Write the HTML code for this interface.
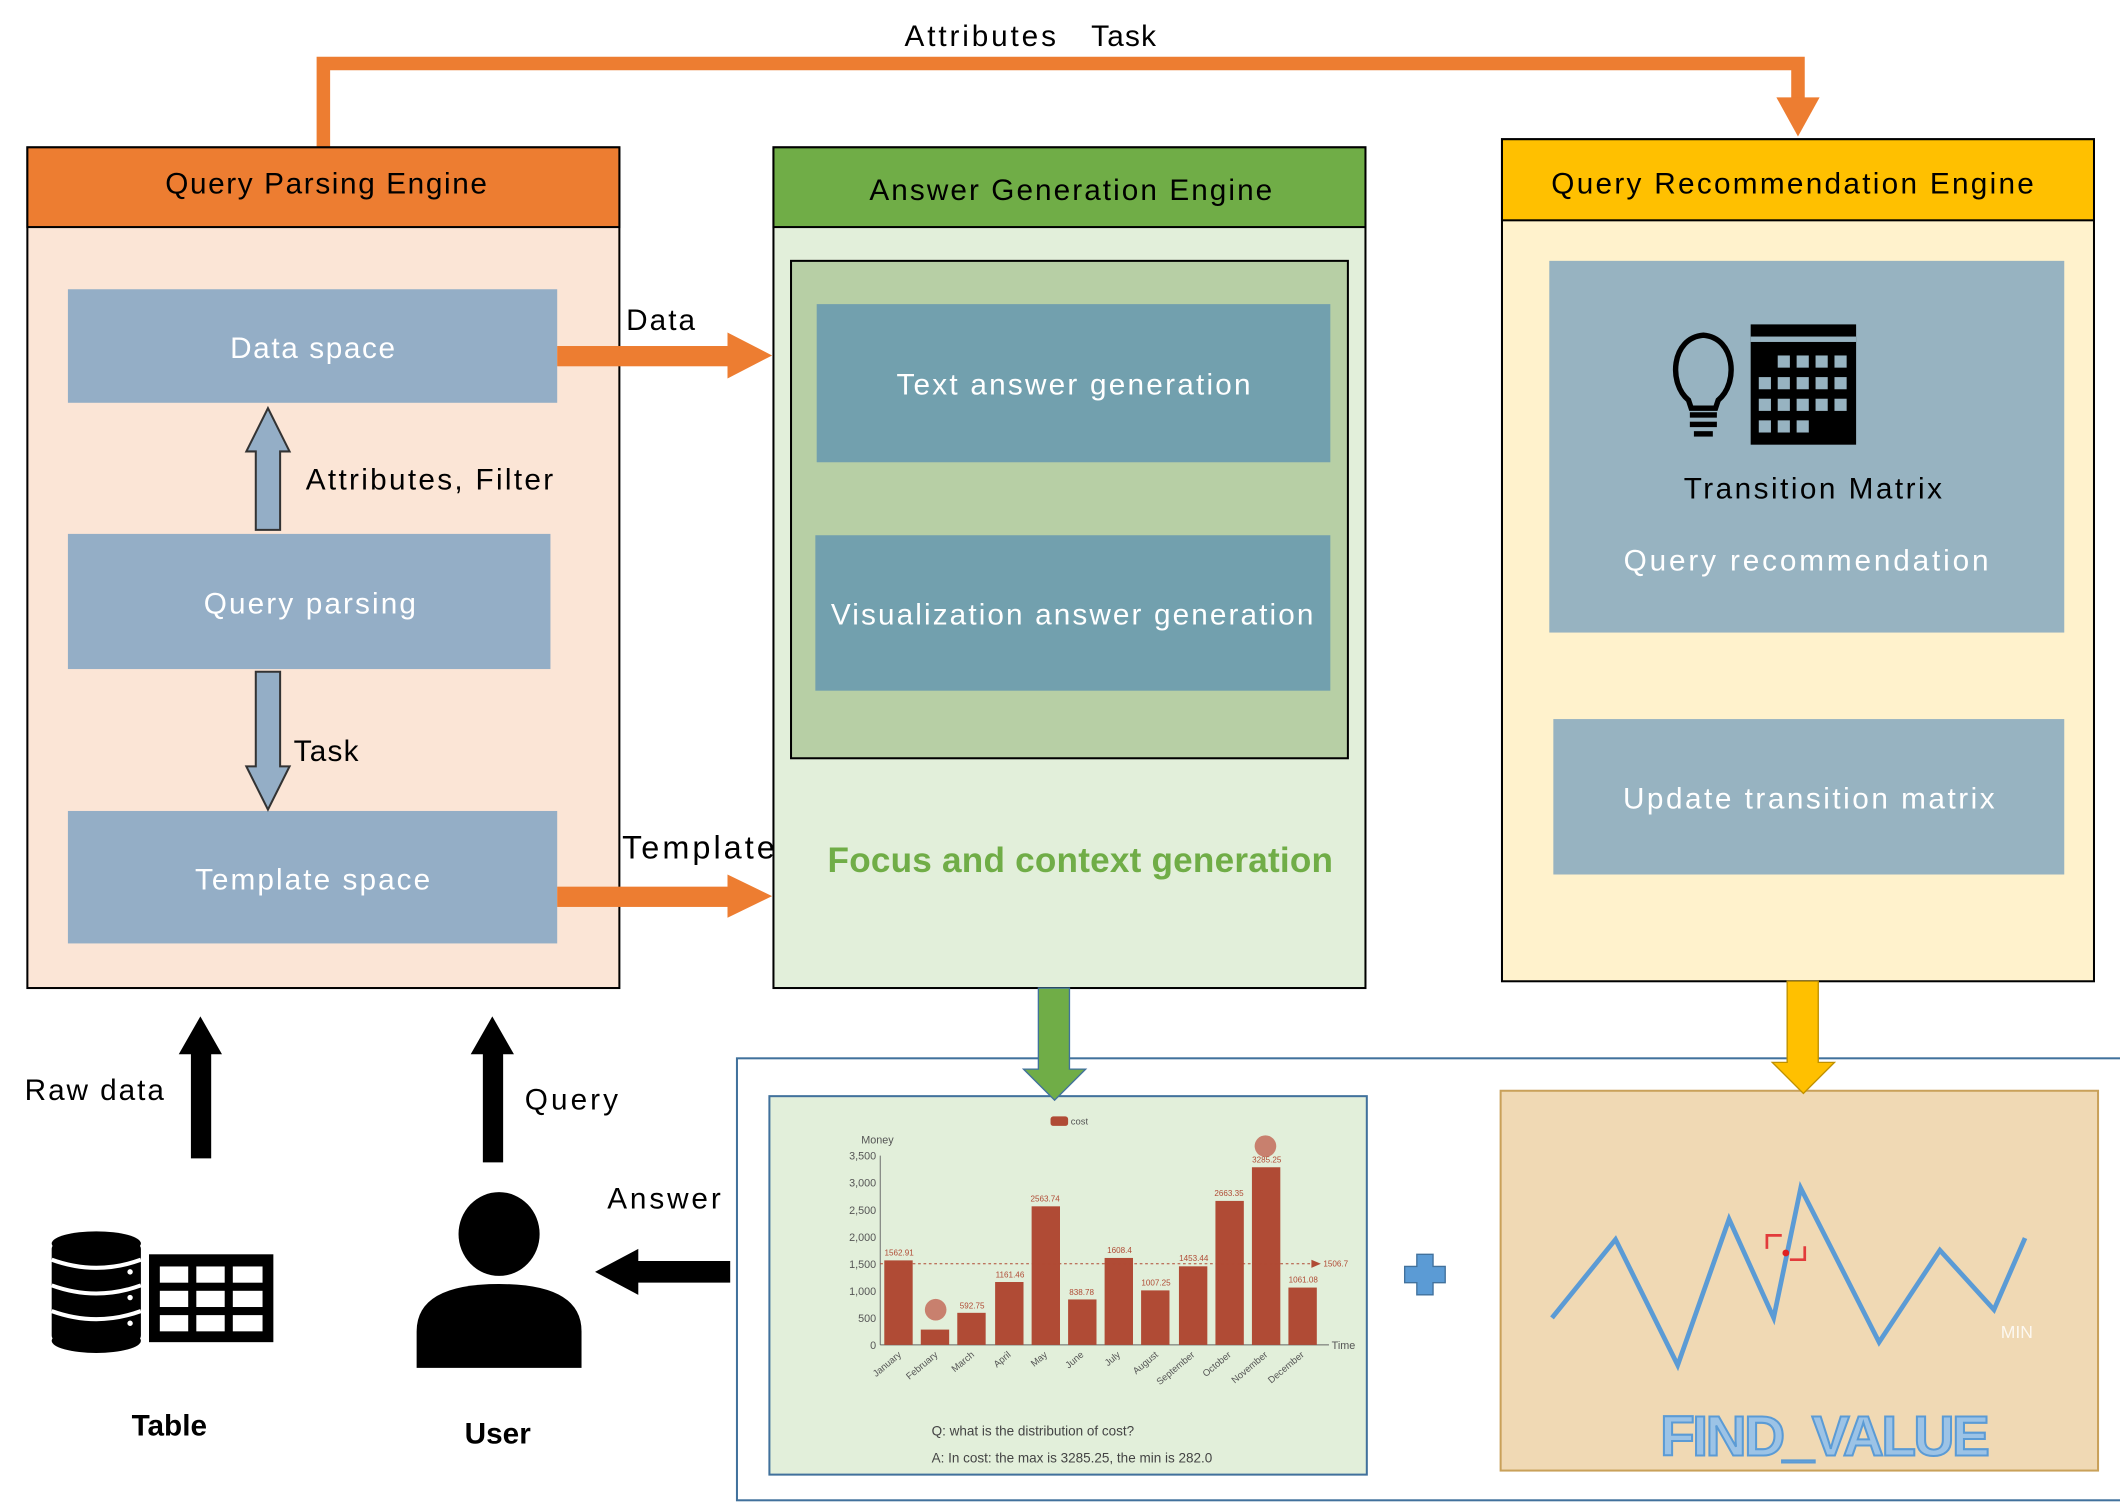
<!DOCTYPE html>
<html><head><meta charset="utf-8"><style>
html,body{margin:0;padding:0;background:#fff;width:2120px;height:1503px;overflow:hidden}
svg{display:block}
text{font-family:"Liberation Sans",sans-serif}
</style></head><body>
<svg width="2120" height="1503" viewBox="0 0 1568 1112" xmlns="http://www.w3.org/2000/svg">
<polyline points="239,109 239,47 1330,47 1330,74" fill="none" stroke="#ED7D31" stroke-width="10"/>
<polygon points="1314,72 1346,72 1330,101" fill="#ED7D31"/>
<text x="669" y="34" font-size="22" textLength="112">Attributes</text>
<text x="807" y="34" font-size="22" textLength="48">Task</text>

<rect x="20" y="109" width="438" height="622" fill="#FBE5D6" stroke="#000" stroke-width="1.5"/>
<rect x="20" y="109" width="438" height="59" fill="#ED7D31" stroke="#000" stroke-width="1.5"/>
<text x="241" y="143" font-size="22" text-anchor="middle" textLength="238">Query Parsing Engine</text>
<rect x="50" y="214" width="362" height="84" fill="#94AEC6"/>
<text x="231" y="265" font-size="22" fill="#fff" text-anchor="middle" textLength="122">Data space</text>
<rect x="50" y="395" width="357" height="100" fill="#94AEC6"/>
<text x="229" y="454" font-size="22" fill="#fff" text-anchor="middle" textLength="157">Query parsing</text>
<rect x="50" y="600" width="362" height="98" fill="#94AEC6"/>
<text x="231" y="658" font-size="22" fill="#fff" text-anchor="middle" textLength="174">Template space</text>
<polygon points="189,392 207,392 207,334 214,334 198,302 182,334 189,334" fill="#94AEC6" stroke="#333" stroke-width="1.5"/>
<text x="226" y="362" font-size="22" textLength="183">Attributes, Filter</text>
<polygon points="189,497 207,497 207,567 214,567 198,599 182,567 189,567" fill="#94AEC6" stroke="#333" stroke-width="1.5"/>
<text x="217" y="563" font-size="22" textLength="48">Task</text>

<rect x="412" y="256" width="128" height="15" fill="#ED7D31"/>
<polygon points="538,246 571,263 538,280" fill="#ED7D31"/>
<text x="463" y="244" font-size="22" textLength="51">Data</text>
<rect x="412" y="656" width="128" height="15" fill="#ED7D31"/>
<polygon points="538,647 571,663 538,679" fill="#ED7D31"/>
<text x="460" y="635" font-size="24" textLength="113">Template</text>

<rect x="572" y="109" width="438" height="622" fill="#E2EFDA" stroke="#000" stroke-width="1.5"/>
<rect x="572" y="109" width="438" height="59" fill="#70AD47" stroke="#000" stroke-width="1.5"/>
<text x="792" y="148" font-size="22" text-anchor="middle" textLength="298">Answer Generation Engine</text>
<rect x="585" y="193" width="412" height="368" fill="#B7CFA5" stroke="#000" stroke-width="1.5"/>
<rect x="604" y="225" width="380" height="117" fill="#72A0AE"/>
<text x="794" y="292" font-size="22" fill="#fff" text-anchor="middle" textLength="262">Text answer generation</text>
<rect x="603" y="396" width="381" height="115" fill="#72A0AE"/>
<text x="793" y="462" font-size="22" fill="#fff" text-anchor="middle" textLength="357">Visualization answer generation</text>
<text x="799" y="645" font-size="26" font-weight="bold" fill="#70AD47" text-anchor="middle" textLength="374">Focus and context generation</text>

<rect x="1111" y="103" width="438" height="623" fill="#FFF2CC" stroke="#000" stroke-width="1.5"/>
<rect x="1111" y="103" width="438" height="60" fill="#FFC000" stroke="#000" stroke-width="1.5"/>
<text x="1326" y="143" font-size="22" text-anchor="middle" textLength="357">Query Recommendation Engine</text>
<rect x="1146" y="193" width="381" height="275" fill="#97B3C1"/>
<rect x="1149" y="532" width="378" height="115" fill="#97B3C1"/>
<text x="1338" y="598" font-size="22" fill="#fff" text-anchor="middle" textLength="275">Update transition matrix</text>
<text x="1341" y="369" font-size="22" text-anchor="middle" textLength="191">Transition Matrix</text>
<text x="1336" y="422" font-size="22" fill="#fff" text-anchor="middle" textLength="270">Query recommendation</text>
<path d="M1249,296 C1234,284 1236,250 1260,248 C1284,250 1286,284 1271,296 L1269,302 L1251,302 Z" fill="none" stroke="#000" stroke-width="4"/>
<rect x="1250" y="305" width="20" height="4" fill="#000"/><rect x="1250" y="312" width="20" height="4" fill="#000"/><rect x="1253" y="319" width="14" height="4" fill="#000"/>
<rect x="1295" y="240" width="78" height="89" fill="#000"/>
<rect x="1295" y="249" width="78" height="4" fill="#97B3C1"/>
<g fill="#97B3C1">
<rect x="1315" y="263" width="9" height="9"/><rect x="1329" y="263" width="9" height="9"/><rect x="1343" y="263" width="9" height="9"/><rect x="1357" y="263" width="9" height="9"/>
<rect x="1301" y="279" width="9" height="9"/><rect x="1315" y="279" width="9" height="9"/><rect x="1329" y="279" width="9" height="9"/><rect x="1343" y="279" width="9" height="9"/><rect x="1357" y="279" width="9" height="9"/>
<rect x="1301" y="295" width="9" height="9"/><rect x="1315" y="295" width="9" height="9"/><rect x="1329" y="295" width="9" height="9"/><rect x="1343" y="295" width="9" height="9"/><rect x="1357" y="295" width="9" height="9"/>
<rect x="1301" y="311" width="9" height="9"/><rect x="1315" y="311" width="9" height="9"/><rect x="1329" y="311" width="9" height="9"/>
</g>

<rect x="545" y="783" width="1030" height="327" fill="none" stroke="#41719C" stroke-width="1.5"/>

<rect x="569" y="811" width="442" height="280" fill="#E2EFDA" stroke="#41719C" stroke-width="1.5"/>
<g font-size="7" fill="#555">
<rect x="777" y="826" width="13" height="7" rx="2" fill="#B04B35"/><text x="792" y="832">cost</text>
<text x="637" y="846" font-size="8">Money</text>
<g text-anchor="end" font-size="8">
<text x="648" y="858">3,500</text><text x="648" y="878">3,000</text><text x="648" y="898">2,500</text><text x="648" y="918">2,000</text><text x="648" y="938">1,500</text><text x="648" y="958">1,000</text><text x="648" y="978">500</text><text x="648" y="998">0</text>
</g>
<line x1="651" y1="855" x2="651" y2="995" stroke="#666" stroke-width="0.7"/>
<line x1="651" y1="995" x2="983" y2="995" stroke="#666" stroke-width="0.7"/>
<text x="985" y="998" font-size="8">Time</text>
</g>
<g fill="#B04B35">
<rect x="654" y="932.5" width="21" height="62.5"/>
<rect x="681" y="983.7" width="21" height="11.3"/>
<rect x="708" y="971.3" width="21" height="23.7"/>
<rect x="736" y="948.5" width="21" height="46.5"/>
<rect x="763" y="892.5" width="21" height="102.5"/>
<rect x="790" y="961.4" width="21" height="33.6"/>
<rect x="817" y="930.7" width="21" height="64.3"/>
<rect x="844" y="954.7" width="21" height="40.3"/>
<rect x="872" y="936.9" width="21" height="58.1"/>
<rect x="899" y="888.5" width="21" height="106.5"/>
<rect x="926" y="863.6" width="21" height="131.4"/>
<rect x="953" y="952.6" width="21" height="42.4"/>
</g>
<line x1="651" y1="935" x2="970" y2="935" stroke="#B04B35" stroke-width="0.7" stroke-dasharray="2,2"/>
<polygon points="970,932 977,935 970,938" fill="#B04B35"/>
<circle cx="692" cy="969" r="8" fill="#C8806E"/><circle cx="936" cy="848" r="8" fill="#C8806E"/>
<g font-size="6" fill="#B04B35" text-anchor="middle">
<text x="665" y="929">1562.91</text><text x="719" y="968">592.75</text><text x="747" y="945">1161.46</text><text x="773" y="889">2563.74</text><text x="800" y="958">838.78</text><text x="828" y="927">1608.4</text><text x="855" y="951">1007.25</text><text x="883" y="933">1453.44</text><text x="909" y="885">2663.35</text><text x="937" y="860">3285.25</text><text x="964" y="949">1061.08</text><text x="988" y="937">1506.7</text>
</g>
<g font-size="7" fill="#555" text-anchor="end">
<text transform="translate(667,1003) rotate(-40)">January</text>
<text transform="translate(694,1003) rotate(-40)">February</text>
<text transform="translate(721,1003) rotate(-40)">March</text>
<text transform="translate(748,1003) rotate(-40)">April</text>
<text transform="translate(775,1003) rotate(-40)">May</text>
<text transform="translate(802,1003) rotate(-40)">June</text>
<text transform="translate(829,1003) rotate(-40)">July</text>
<text transform="translate(857,1003) rotate(-40)">August</text>
<text transform="translate(884,1003) rotate(-40)">September</text>
<text transform="translate(911,1003) rotate(-40)">October</text>
<text transform="translate(938,1003) rotate(-40)">November</text>
<text transform="translate(965,1003) rotate(-40)">December</text>
</g>
<text x="689" y="1062" font-size="10" fill="#444">Q: what is the distribution of cost?</text>
<text x="689" y="1082" font-size="10" fill="#444">A:  In cost: the max is 3285.25, the min is 282.0</text>

<polygon points="768,731 791,731 791,791 803,791 780,814 757,791 768,791" fill="#70AD47" stroke="#41719C" stroke-width="1"/>

<rect x="1110" y="807" width="442" height="281" fill="#F0D9B4" stroke="#C9A15A" stroke-width="1.5"/>
<polyline points="1148,975 1195,917 1241,1010 1279,902 1312,975 1332,879 1390,993 1435,925 1475,969 1498,916" fill="none" stroke="#5B9BD5" stroke-width="3.5"/>
<path d="M1307,924 V914 H1318 M1324,932 H1335 V922" fill="none" stroke="#E23B3B" stroke-width="2"/>
<circle cx="1321" cy="927" r="2.5" fill="#E02020"/>
<text x="1480" y="990" font-size="13" fill="#fff" fill-opacity="0.8" font-family="Liberation Serif,serif">MIN</text>
<text x="1350" y="1077" font-size="42" font-weight="bold" fill="#9CC3E6" stroke="#5B9BD5" stroke-width="1.5" text-anchor="middle" textLength="244">FIND_VALUE</text>

<polygon points="1322,726 1345,726 1345,786 1357,786 1334,809 1311,786 1322,786" fill="#FFC000" stroke="#BF9000" stroke-width="1"/>

<path d="M1048,928 h12 v9 h9 v12 h-9 v9 h-12 v-9 h-9 v-12 h9 z" fill="#5B9BD5" stroke="#41719C" stroke-width="1"/>

<polygon points="141,857 156,857 156,780 164,780 148,752 132,780 141,780" fill="#000"/>
<polygon points="357,860 372,860 372,780 380,780 364,752 348,780 357,780" fill="#000"/>
<polygon points="540,933 540,949 472,949 472,958 440,941 472,924 472,933" fill="#000"/>
<text x="18" y="814" font-size="22" textLength="103">Raw data</text>
<text x="388" y="821" font-size="22" textLength="69">Query</text>
<text x="449" y="894" font-size="22" textLength="84">Answer</text>

<g fill="#000">
<ellipse cx="71" cy="920" rx="33" ry="9"/>
<rect x="38" y="920" width="66" height="72" rx="4"/>
<ellipse cx="71" cy="992" rx="33" ry="9"/>
</g>
<g stroke="#fff" stroke-width="3" fill="none">
<path d="M38,932 Q71,944 104,932"/><path d="M38,951 Q71,963 104,951"/><path d="M38,970 Q71,982 104,970"/>
</g>
<circle cx="96" cy="941" r="2" fill="#fff"/><circle cx="96" cy="960" r="2" fill="#fff"/><circle cx="96" cy="979" r="2" fill="#fff"/>
<rect x="110" y="928" width="92" height="65" fill="#000"/>
<g fill="#fff">
<rect x="118" y="937" width="21" height="12"/><rect x="145" y="937" width="21" height="12"/><rect x="172" y="937" width="22" height="12"/>
<rect x="118" y="955" width="21" height="12"/><rect x="145" y="955" width="21" height="12"/><rect x="172" y="955" width="22" height="12"/>
<rect x="118" y="973" width="21" height="12"/><rect x="145" y="973" width="21" height="12"/><rect x="172" y="973" width="22" height="12"/>
</g>
<text x="125" y="1062" font-size="22" font-weight="bold" text-anchor="middle">Table</text>

<ellipse cx="369" cy="913" rx="30" ry="31" fill="#000"/>
<path d="M308,1012 V985 Q308,950 369,950 Q430,950 430,985 V1012 Z" fill="#000"/>
<text x="368" y="1068" font-size="22" font-weight="bold" text-anchor="middle">User</text>
</svg>
</body></html>
